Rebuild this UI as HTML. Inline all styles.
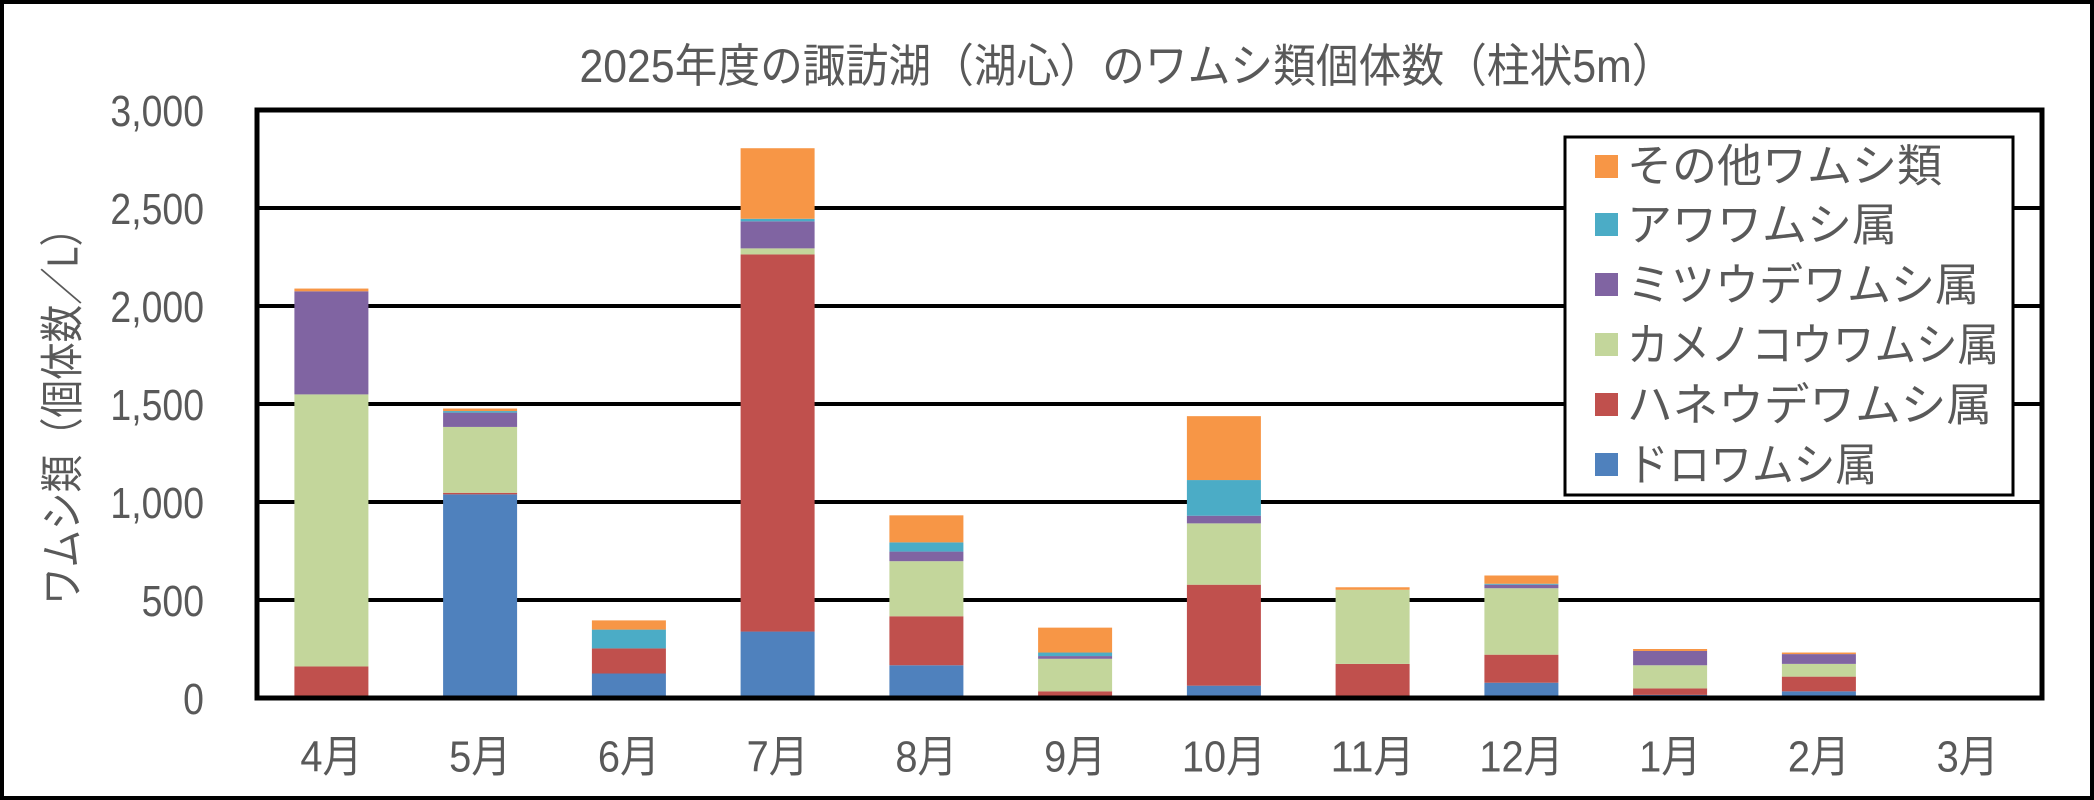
<!DOCTYPE html>
<html><head><meta charset="utf-8"><style>
html,body{margin:0;padding:0;background:#fff}
svg{display:block}
text{font-family:"Liberation Sans","Noto Sans CJK JP",sans-serif;fill:#595959}
</style></head><body>
<svg width="2094" height="800" viewBox="0 0 2094 800" xmlns="http://www.w3.org/2000/svg">
<rect x="2" y="2" width="2090" height="796" fill="#fff" stroke="#000" stroke-width="4"/>
<text x="1127" y="66" font-size="46" text-anchor="middle" dominant-baseline="central" textLength="1095" lengthAdjust="spacingAndGlyphs">2025年度の諏訪湖（湖心）のワムシ類個体数（柱状5m）</text>
<g stroke="#000" stroke-width="4">
<line x1="257" y1="600" x2="2042" y2="600"/>
<line x1="257" y1="502" x2="2042" y2="502"/>
<line x1="257" y1="404" x2="2042" y2="404"/>
<line x1="257" y1="306" x2="2042" y2="306"/>
<line x1="257" y1="208" x2="2042" y2="208"/>
</g>
<g transform="translate(0,698) scale(1,-0.196)">
<rect x="294.4" y="0" width="74" height="161" fill="#C0504D"/>
<rect x="294.4" y="161" width="74" height="1388" fill="#C3D69B"/>
<rect x="294.4" y="1549" width="74" height="526" fill="#8064A2"/>
<rect x="294.4" y="2075" width="74" height="14" fill="#F79646"/>
<rect x="443.1" y="0" width="74" height="1039" fill="#4F81BD"/>
<rect x="443.1" y="1039" width="74" height="8" fill="#C0504D"/>
<rect x="443.1" y="1047" width="74" height="336" fill="#C3D69B"/>
<rect x="443.1" y="1383" width="74" height="73" fill="#8064A2"/>
<rect x="443.1" y="1456" width="74" height="8" fill="#4BACC6"/>
<rect x="443.1" y="1464" width="74" height="13" fill="#F79646"/>
<rect x="591.9" y="0" width="74" height="125" fill="#4F81BD"/>
<rect x="591.9" y="125" width="74" height="128" fill="#C0504D"/>
<rect x="591.9" y="253" width="74" height="96" fill="#4BACC6"/>
<rect x="591.9" y="349" width="74" height="47" fill="#F79646"/>
<rect x="740.6" y="0" width="74" height="339" fill="#4F81BD"/>
<rect x="740.6" y="339" width="74" height="1924" fill="#C0504D"/>
<rect x="740.6" y="2263" width="74" height="31" fill="#C3D69B"/>
<rect x="740.6" y="2294" width="74" height="138" fill="#8064A2"/>
<rect x="740.6" y="2432" width="74" height="13" fill="#4BACC6"/>
<rect x="740.6" y="2445" width="74" height="360" fill="#F79646"/>
<rect x="889.4" y="0" width="74" height="167" fill="#4F81BD"/>
<rect x="889.4" y="167" width="74" height="250" fill="#C0504D"/>
<rect x="889.4" y="417" width="74" height="281" fill="#C3D69B"/>
<rect x="889.4" y="698" width="74" height="49" fill="#8064A2"/>
<rect x="889.4" y="747" width="74" height="47" fill="#4BACC6"/>
<rect x="889.4" y="794" width="74" height="138" fill="#F79646"/>
<rect x="1038.1" y="0" width="74" height="34" fill="#C0504D"/>
<rect x="1038.1" y="34" width="74" height="166" fill="#C3D69B"/>
<rect x="1038.1" y="200" width="74" height="14" fill="#8064A2"/>
<rect x="1038.1" y="214" width="74" height="18" fill="#4BACC6"/>
<rect x="1038.1" y="232" width="74" height="127" fill="#F79646"/>
<rect x="1186.9" y="0" width="74" height="63" fill="#4F81BD"/>
<rect x="1186.9" y="63" width="74" height="515" fill="#C0504D"/>
<rect x="1186.9" y="578" width="74" height="313" fill="#C3D69B"/>
<rect x="1186.9" y="891" width="74" height="39" fill="#8064A2"/>
<rect x="1186.9" y="930" width="74" height="182" fill="#4BACC6"/>
<rect x="1186.9" y="1112" width="74" height="326" fill="#F79646"/>
<rect x="1335.6" y="0" width="74" height="174" fill="#C0504D"/>
<rect x="1335.6" y="174" width="74" height="378" fill="#C3D69B"/>
<rect x="1335.6" y="552" width="74" height="13" fill="#F79646"/>
<rect x="1484.4" y="0" width="74" height="78" fill="#4F81BD"/>
<rect x="1484.4" y="78" width="74" height="143" fill="#C0504D"/>
<rect x="1484.4" y="221" width="74" height="339" fill="#C3D69B"/>
<rect x="1484.4" y="560" width="74" height="18" fill="#8064A2"/>
<rect x="1484.4" y="578" width="74" height="5" fill="#4BACC6"/>
<rect x="1484.4" y="583" width="74" height="42" fill="#F79646"/>
<rect x="1633.1" y="0" width="74" height="16" fill="#4F81BD"/>
<rect x="1633.1" y="16" width="74" height="33" fill="#C0504D"/>
<rect x="1633.1" y="49" width="74" height="118" fill="#C3D69B"/>
<rect x="1633.1" y="167" width="74" height="73" fill="#8064A2"/>
<rect x="1633.1" y="240" width="74" height="10" fill="#F79646"/>
<rect x="1781.9" y="0" width="74" height="34" fill="#4F81BD"/>
<rect x="1781.9" y="34" width="74" height="75" fill="#C0504D"/>
<rect x="1781.9" y="109" width="74" height="65" fill="#C3D69B"/>
<rect x="1781.9" y="174" width="74" height="50" fill="#8064A2"/>
<rect x="1781.9" y="224" width="74" height="8" fill="#F79646"/>
</g>
<rect x="257" y="110" width="1785" height="588" fill="none" stroke="#000" stroke-width="5"/>
<g font-size="44" text-anchor="end" dominant-baseline="central" transform="scale(0.85,1)">
<text x="240" y="111">3,000</text>
<text x="240" y="209">2,500</text>
<text x="240" y="307">2,000</text>
<text x="240" y="405">1,500</text>
<text x="240" y="503">1,000</text>
<text x="240" y="601">500</text>
<text x="240" y="699">0</text>
</g>
<g font-size="44" text-anchor="middle" dominant-baseline="central">
<text x="331.4" y="757" textLength="62" lengthAdjust="spacingAndGlyphs">4月</text>
<text x="480.1" y="757" textLength="62" lengthAdjust="spacingAndGlyphs">5月</text>
<text x="628.9" y="757" textLength="62" lengthAdjust="spacingAndGlyphs">6月</text>
<text x="777.6" y="757" textLength="62" lengthAdjust="spacingAndGlyphs">7月</text>
<text x="926.4" y="757" textLength="62" lengthAdjust="spacingAndGlyphs">8月</text>
<text x="1075.1" y="757" textLength="62" lengthAdjust="spacingAndGlyphs">9月</text>
<text x="1223.9" y="757" textLength="84" lengthAdjust="spacingAndGlyphs">10月</text>
<text x="1372.6" y="757" textLength="84" lengthAdjust="spacingAndGlyphs">11月</text>
<text x="1521.4" y="757" textLength="84" lengthAdjust="spacingAndGlyphs">12月</text>
<text x="1670.1" y="757" textLength="62" lengthAdjust="spacingAndGlyphs">1月</text>
<text x="1818.9" y="757" textLength="62" lengthAdjust="spacingAndGlyphs">2月</text>
<text x="1967.6" y="757" textLength="62" lengthAdjust="spacingAndGlyphs">3月</text>
</g>
<text transform="translate(63,407) rotate(-90)" font-size="44" text-anchor="middle" dominant-baseline="central" textLength="396" lengthAdjust="spacingAndGlyphs">ワムシ類（個体数／L）</text>
<rect x="1565" y="137" width="448" height="358" fill="#fff" stroke="#000" stroke-width="3"/>
<g font-size="45" dominant-baseline="central">
<rect x="1595" y="155" width="23" height="23" fill="#F79646"/><text x="1627" y="166">その他ワムシ類</text>
<rect x="1595" y="213" width="23" height="23" fill="#4BACC6"/><text x="1627" y="225">アワワムシ属</text>
<rect x="1595" y="273" width="23" height="23" fill="#8064A2"/><text x="1627" y="285" textLength="352" lengthAdjust="spacingAndGlyphs">ミツウデワムシ属</text>
<rect x="1595" y="333" width="23" height="23" fill="#C3D69B"/><text x="1627" y="345" textLength="372" lengthAdjust="spacingAndGlyphs">カメノコウワムシ属</text>
<rect x="1595" y="393" width="23" height="23" fill="#C0504D"/><text x="1627" y="405" textLength="365" lengthAdjust="spacingAndGlyphs">ハネウデワムシ属</text>
<rect x="1595" y="453" width="23" height="23" fill="#4F81BD"/><text x="1627" y="465" textLength="250" lengthAdjust="spacingAndGlyphs">ドロワムシ属</text>
</g>
</svg>
</body></html>
